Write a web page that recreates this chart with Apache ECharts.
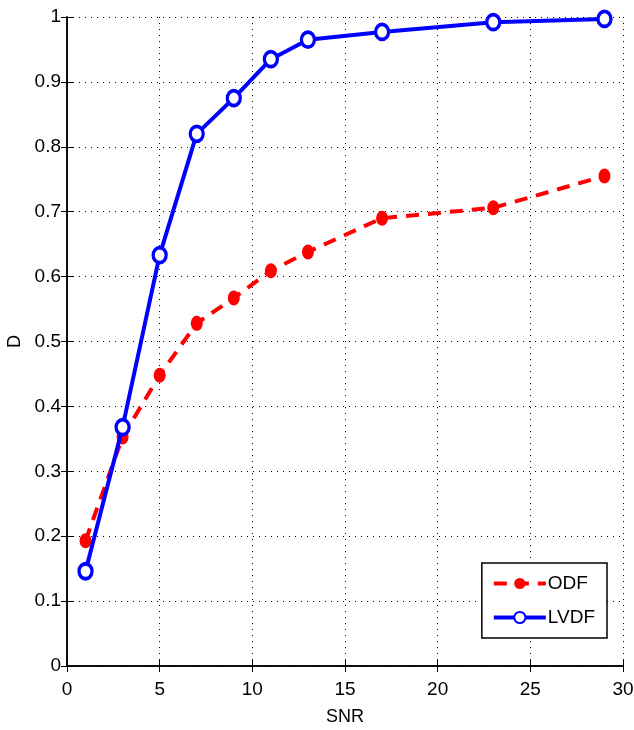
<!DOCTYPE html>
<html>
<head>
<meta charset="utf-8">
<script src="https://cdn.jsdelivr.net/npm/echarts@6/dist/echarts.min.js"></script>
<style>
html, body { margin: 0; padding: 0; background: #fff; }
#chart { width: 634px; height: 730px; }
</style>
</head>
<body>
<div id="chart"></div>
<script>
var myChart = echarts.init(document.getElementById('chart'));

// 数据
let snr = [1, 3, 5, 7, 9, 11, 13, 17, 23, 29];
let odf = [0.193, 0.353, 0.448, 0.528, 0.567, 0.609, 0.638, 0.690, 0.706, 0.755];
let lvdf = [0.146, 0.368, 0.633, 0.820, 0.875, 0.935, 0.965, 0.977, 0.992, 0.997];

let font = '"Liberation Sans", Arial, sans-serif';

function pairs(xs, ys) {
    return xs.map(function (x, i) { return [x, ys[i]]; });
}

option = {
    animation: false,
    backgroundColor: '#fff',
    grid: {
        left: 67,
        right: 11,
        top: 17,
        bottom: 64,
        outerBoundsMode: 'none',
        containLabel: false,
        show: false
    },
    legend: {
        right: 27,
        bottom: 92,
        orient: 'vertical',
        backgroundColor: '#fff',
        borderColor: '#000',
        borderWidth: 1.5,
        borderRadius: 0,
        padding: [11, 12, 11, 10],
        itemGap: 15,
        itemWidth: 52,
        itemHeight: 14,
        lineStyle: { width: 4 },   // 图例里的线加粗
        textStyle: { fontFamily: font, fontSize: 19, color: '#000', padding: [0, 0, 0, -3] },
        data: ['ODF', 'LVDF']
    },
    xAxis: [
        {
            type: 'value',
            min: 0,
            max: 30,
            interval: 5,
            name: 'SNR',
            nameLocation: 'middle',
            nameGap: 42,
            nameTextStyle: { fontFamily: font, fontSize: 18, color: '#000' },
            axisLine: { lineStyle: { color: '#000', width: 1.5 } },
            axisTick: { inside: true, length: 6, lineStyle: { color: '#000' } },
            axisLabel: { fontFamily: font, fontSize: 19, color: '#000', margin: 14 },
            splitLine: { show: true, lineStyle: { color: '#000', type: [1, 5], width: 1 } }
        },
        {
            type: 'value',
            position: 'top',
            min: 0,
            max: 30,
            interval: 5,
            axisLine: { lineStyle: { color: '#000', width: 1.5 } },
            axisTick: { inside: true, length: 6, lineStyle: { color: '#000' } },
            axisLabel: { show: false },
            splitLine: { show: false }
        }
    ],
    yAxis: [
        {
            type: 'value',
            min: 0,
            max: 1,
            interval: 0.1,
            name: 'D',
            nameLocation: 'middle',
            nameGap: 38,
            nameTextStyle: { fontFamily: font, fontSize: 18, color: '#000' },
            axisLine: { show: true, lineStyle: { color: '#000', width: 1.5 } },
            axisTick: { show: true, inside: true, length: 6, lineStyle: { color: '#000' } },
            axisLabel: {
                fontFamily: font, fontSize: 19, color: '#000', margin: 6,
                formatter: function (v) { return String(Math.round(v * 10) / 10); }
            },
            splitLine: { show: true, lineStyle: { color: '#000', type: [1, 5], width: 1 } }
        },
        {
            type: 'value',
            position: 'right',
            min: 0,
            max: 1,
            interval: 0.1,
            axisLine: { show: true, lineStyle: { color: '#000', width: 1.5 } },
            axisTick: { show: true, inside: true, length: 6, lineStyle: { color: '#000' } },
            axisLabel: { show: false },
            splitLine: { show: false }
        }
    ],
    series: [
        {
            name: 'ODF',
            type: 'line',
            data: pairs(snr, odf),
            symbol: 'circle',
            symbolSize: [12, 15],
            itemStyle: { color: '#ff0000' },
            lineStyle: { color: '#ff0000', width: 4, type: [13, 9] },
            z: 3
        },
        {
            name: 'LVDF',
            type: 'line',
            data: pairs(snr, lvdf),
            symbol: 'circle',
            symbolSize: [13, 15],
            itemStyle: { color: '#fff', borderColor: '#0000ff', borderWidth: 3.5 },
            lineStyle: { color: '#0000ff', width: 4 },
            z: 4
        }
    ]
};

myChart.setOption(option);
</script>
</body>
</html>
